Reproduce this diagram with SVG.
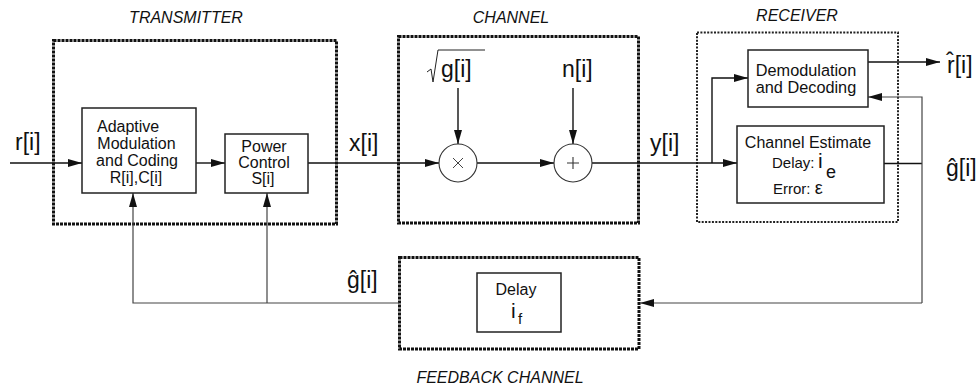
<svg xmlns="http://www.w3.org/2000/svg" width="980" height="387" viewBox="0 0 980 387">
<style>
text{font-family:"Liberation Sans",Arial,sans-serif;fill:#111}
.title{font-size:16px;font-style:italic;text-anchor:middle}
.lbl{font-size:23px}
.box{fill:#fff;stroke:#222;stroke-width:1.5}
.bt{font-size:16px;text-anchor:middle}
.group{fill:none;stroke:#111;stroke-width:3;stroke-dasharray:3 1}
.rxgroup{fill:none;stroke:#222;stroke-width:2;stroke-dasharray:2 1.4}
.ln{fill:none;stroke:#111;stroke-width:1.4}
.fb{fill:none;stroke:#444;stroke-width:1.2}
.sum{fill:#fff;stroke:#333;stroke-width:1.1}
</style>
<defs>
<marker id="ah" markerUnits="userSpaceOnUse" markerWidth="15" markerHeight="9" refX="14" refY="4" orient="auto">
<path d="M0,0 L14,4 L0,8 z" fill="#111"/>
</marker>
</defs>

<!-- group outlines -->
<g id="transmitter">
<rect class="group" x="53.5" y="40.5" width="283" height="183.5"/>
<text class="title" x="186" y="23">TRANSMITTER</text>
</g>
<g id="channel">
<rect class="group" x="398.5" y="36.5" width="240" height="186.5"/>
<text class="title" x="511" y="23">CHANNEL</text>
</g>
<g id="receiver">
<rect class="rxgroup" x="697" y="32.5" width="201" height="189.5"/>
<text class="title" x="797" y="21">RECEIVER</text>
</g>
<g id="feedback-channel">
<rect class="group" x="399.5" y="257.5" width="239.5" height="91.5"/>
<text class="title" x="500" y="383">FEEDBACK CHANNEL</text>
</g>

<!-- connectors -->
<g id="connectors">
<path class="ln" d="M10,163 H82" marker-end="url(#ah)"/>
<path class="ln" d="M196,163 H225" marker-end="url(#ah)"/>
<path class="ln" d="M308,163 H439" marker-end="url(#ah)"/>
<path class="ln" d="M477,163 H554" marker-end="url(#ah)"/>
<path class="ln" d="M592,163 H737" marker-end="url(#ah)"/>
<path class="ln" d="M712,163 V78 H748" marker-end="url(#ah)"/>
<path class="ln" d="M458,88 V144" marker-end="url(#ah)"/>
<path class="ln" d="M573,88 V144" marker-end="url(#ah)"/>
<path class="ln" d="M868,62 H940" marker-end="url(#ah)"/>
<path class="ln" d="M884,163.5 H922"/>
<path class="fb" d="M922,303 V97 H868" marker-end="url(#ah)"/>
<path class="fb" d="M922,303 H640" marker-end="url(#ah)"/>
<path class="fb" d="M399,303 H133 V193" marker-end="url(#ah)"/>
<path class="fb" d="M267,303 V193" marker-end="url(#ah)"/>
</g>

<!-- nodes -->
<g id="amc">
<rect class="box" x="82" y="108" width="114" height="85"/>
<text x="97" y="132" style="font-size:16px">Adaptive</text>
<text class="bt" x="136.5" y="149">Modulation</text>
<text class="bt" x="137" y="166">and Coding</text>
<text class="bt" x="136" y="183">R[i],C[i]</text>
</g>
<g id="power-control">
<rect class="box" x="225" y="134" width="83" height="59"/>
<text class="bt" x="264" y="152">Power</text>
<text class="bt" x="264" y="168">Control</text>
<text class="bt" x="263" y="184">S[i]</text>
</g>
<g id="multiplier">
<circle class="sum" cx="458" cy="163" r="19"/>
<path d="M453,158 L463,168 M463,158 L453,168" stroke="#444" stroke-width="1"/>
</g>
<g id="adder">
<circle class="sum" cx="573" cy="163" r="19"/>
<path d="M573,157 V169 M567,163 H579" stroke="#333" stroke-width="1.1"/>
</g>
<g id="demod">
<rect class="box" x="748" y="50" width="120" height="57"/>
<text class="bt" x="806" y="76" style="font-size:16.3px">Demodulation</text>
<text class="bt" x="806" y="93" style="font-size:16.3px">and Decoding</text>
</g>
<g id="channel-estimate">
<rect class="box" x="737" y="126" width="147" height="77"/>
<text class="bt" x="808" y="148">Channel Estimate</text>
<text x="772" y="168" style="font-size:15px">Delay:</text>
<text x="818" y="168" style="font-size:21px">i</text>
<text x="826" y="178" style="font-size:18px">e</text>
<text x="773" y="194" style="font-size:15px">Error: <tspan style="font-size:18px">ε</tspan></text>
</g>
<g id="delay">
<rect class="box" x="477" y="273" width="84" height="59"/>
<text class="bt" x="516" y="295">Delay</text>
<text x="511" y="318" style="font-size:21px">i</text>
<text x="518" y="324" style="font-size:15px">f</text>
</g>

<!-- signal labels -->
<g id="labels">
<text class="lbl" x="15" y="150">r[i]</text>
<text class="lbl" x="349" y="151">x[i]</text>
<text class="lbl" x="650" y="151">y[i]</text>
<path d="M427,72 L431,69 L433,82 L438,50 H485" fill="none" stroke="#222" stroke-width="1"/>
<text class="lbl" x="441" y="77">g[i]</text>
<text class="lbl" x="562" y="77">n[i]</text>
<text class="lbl" x="947" y="73">r̂[i]</text>
<text class="lbl" x="946" y="176">ĝ[i]</text>
<text class="lbl" x="347" y="288">ĝ[i]</text>
</g>
</svg>
